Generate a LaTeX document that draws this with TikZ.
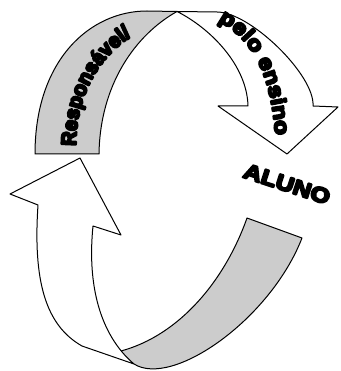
\documentclass[tikz,border=0pt]{standalone}
\usepackage{fontspec}
\newfontfamily\heavy{Liberation Sans}[FakeStretch=0.95, BoldFeatures={FakeBold=10}]
\newfontfamily\heavywide{Liberation Sans}[FakeStretch=1.15, BoldFeatures={FakeBold=10}]
\newfontfamily\heavyaluno{Liberation Sans}[FakeStretch=1.2, BoldFeatures={FakeBold=10}]
\usetikzlibrary{decorations.text}
\definecolor{band}{RGB}{204,204,204}
\begin{document}
\begin{tikzpicture}[x=1pt,y=-1pt, line width=1pt, line join=round,
  edge/.style={draw=black},
  face/.style={draw=black, fill=white},
  back/.style={fill=band},
  wordart/.style={font=\heavyaluno\bfseries\fontsize{21}{21}\selectfont}]
\useasboundingbox (0,0) rectangle (340,371);
% ---------- upper ribbon ----------
\path[back, edge] (35,154) -- (99,154) .. controls (100,85) and (135,35) .. (177,11.5)
   -- (147,11) .. controls (90,11) and (35,60) .. (35,154) -- cycle;
\path[face] (177,11.5) -- (217,12) .. controls (250,12) and (315,75) .. (313,106)
   -- (338,107) -- (287,154) -- (218,106) -- (248,106)
   .. controls (247,65) and (210,28) .. (177,11.5) -- cycle;
% ---------- lower ribbon ----------
\fill[band] (302,238) -- (247,218) .. controls (225,280) and (180,335) .. (121,351)
   -- (116,357) -- (134,364) .. controls (172,388) and (270,320) .. (302,238) -- cycle;
\draw (121,351) .. controls (180,335) and (225,280) .. (247,218) -- (302,238)
   .. controls (270,320) and (172,388) .. (134,364);
\path[face] (80,158) -- (121,235) -- (93,226) .. controls (87,285) and (100,335) .. (134,364)
   -- (82,346) .. controls (45,325) and (33,280) .. (38,205) -- (10,194) -- cycle;
% ---------- texts ----------
\path[decorate, decoration={text along path, text align=left,
  text={|\heavy\bfseries\fontsize{21}{21}\selectfont|Responsável/}}]
  (76,146) .. controls (76,80) and (115,34) .. (168,20);
\path[decorate, decoration={text along path, text align=left,
  text={|\heavywide\bfseries\fontsize{21}{21}\selectfont|pelo ensino}}]
  (218,21) .. controls (255,40) and (274,80) .. (276,150);
\node[wordart, rotate=-18] (aluno) at (287,184) {ALUNO};
\end{tikzpicture}
\end{document}
